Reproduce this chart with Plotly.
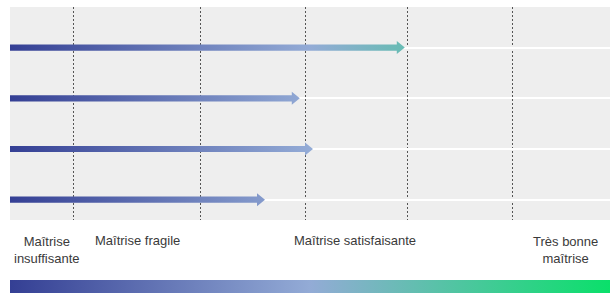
import plotly.graph_objects as go

# ---- data ----
rows = [3, 2, 1, 0]                      # row positions (top to bottom)
arrow_ends = [65.8, 48.3, 50.5, 42.5]    # score reached by each arrow (0-100 scale)
thresholds = [10.5, 31.7, 49.2, 66.3, 83.8]
level_labels = ["Maîtrise<br>insuffisante", "Maîtrise fragile",
                "Maîtrise satisfaisante", "Très bonne<br>maîtrise"]
level_pos = [6.2, 21.2, 57.5, 92.6]
level_lines = [2, 1, 1, 2]

colorscale = [[0.0, "#343f94"], [0.5, "#93abd6"], [1.0, "#0ae06a"]]

W, H = 610, 293
ml, mr, mt, mb = 10, 0, 7, 0
plot_h = H - mt - mb
main_bottom_px = 220
y_dom = [(H - main_bottom_px) / plot_h, 1.0]
bar_dom = [0.0, 13 / plot_h]

yr = [-0.4, 3.8]
px_per_y = (main_bottom_px - mt) / (yr[1] - yr[0])
px_per_x = (W - ml - mr) / 100.0

shaft = 3.1 / px_per_y
head_h = 6.5 / px_per_y
head_l = 8.0 / px_per_x

fig = go.Figure()

for r, v in zip(rows, arrow_ends):
    xs = [0, v - head_l, v - head_l, v, v - head_l, v - head_l, 0, 0]
    ys = [r - shaft, r - shaft, r - head_h, r, r + head_h, r + shaft, r + shaft, r - shaft]
    fig.add_trace(go.Scatter(
        x=xs, y=ys, mode="lines", line=dict(width=0), fill="toself",
        fillgradient=dict(type="horizontal", colorscale=colorscale, start=0, stop=100),
        hoverinfo="skip", showlegend=False))

# bottom gradient bar
fig.add_trace(go.Scatter(
    x=[0, 100, 100, 0, 0], y=[0, 0, 1, 1, 0], xaxis="x2", yaxis="y2",
    mode="lines", line=dict(width=0), fill="toself",
    fillgradient=dict(type="horizontal", colorscale=colorscale, start=0, stop=100),
    hoverinfo="skip", showlegend=False))

for lab, xp, nl in zip(level_labels, level_pos, level_lines):
    center_px = 241 + (nl - 1) * 8.5
    fig.add_annotation(x=xp, y=(H - center_px) / plot_h, xref="x", yref="paper",
                       text=lab, showarrow=False, xanchor="center", yanchor="middle",
                       font=dict(family="Liberation Sans, Arial", size=13, color="#3a3a3a"))

fig.update_layout(
    width=W, height=H,
    margin=dict(l=ml, r=mr, t=mt, b=mb),
    paper_bgcolor="white", plot_bgcolor="#eeeeee",
    xaxis=dict(range=[0, 100], domain=[0, 1], tickvals=thresholds, showticklabels=False,
               ticks="", showgrid=True, gridcolor="#555555", gridwidth=1, griddash="2px,2px",
               zeroline=False, showline=False, fixedrange=True),
    yaxis=dict(range=yr, domain=y_dom, tickvals=[0, 1, 2, 3], showticklabels=False,
               ticks="", showgrid=True, gridcolor="white", gridwidth=2,
               zeroline=False, showline=False, fixedrange=True),
    xaxis2=dict(range=[0, 100], domain=[0, 1], anchor="y2", visible=False),
    yaxis2=dict(range=[0, 1], domain=bar_dom, anchor="x2", visible=False),
)

fig.write_html("out.html", config={"displayModeBar": False})

# remove default page margin so the figure sits at the window's top-left corner
with open("out.html", "r", encoding="utf-8") as f:
    html = f.read()
html = html.replace("<head>", "<head><style>html,body{margin:0;padding:0;overflow:hidden;}</style>", 1)
with open("out.html", "w", encoding="utf-8") as f:
    f.write(html)
